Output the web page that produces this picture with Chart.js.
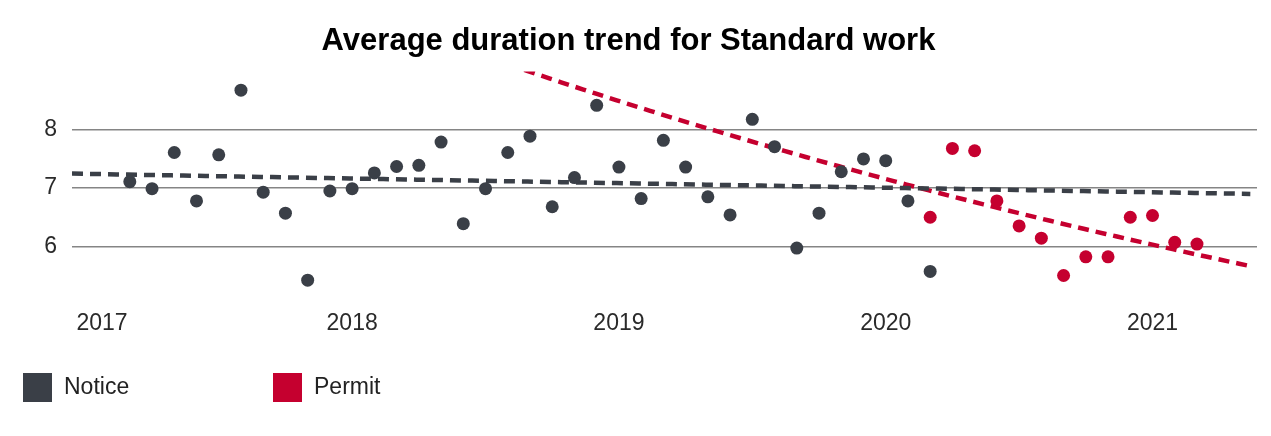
<!DOCTYPE html>
<html lang="en">
<head>
<meta charset="UTF-8">
<title>Average duration trend for Standard work</title>
<script src="https://cdn.jsdelivr.net/npm/chart.js"></script>
<style>
  html, body { margin: 0; padding: 0; background: #ffffff; }
  .chart-box { position: relative; width: 1271px; height: 436px; }
</style>
</head>
<body>
<div class="chart-box"><canvas id="trendChart"></canvas></div>
<script>
// x is counted in months since Jan 2017
const yearLabels = ['2017', '2018', '2019', '2020', '2021'];
const yearTickMonths = [0.75, 12, 24, 36, 48];
const yTicks = [6, 7, 8];

const noticeStart = '2017-03';
const noticeValues = [
  7.11, 6.99, 7.61, 6.78, 7.57, 8.68, 6.93, 6.57, 5.42, 6.95,
  6.99, 7.26, 7.37, 7.39, 7.79, 6.39, 6.99, 7.61, 7.89, 6.68,
  7.18, 8.42, 7.36, 6.82, 7.82, 7.36, 6.85, 6.54, 8.18, 7.71,
  5.97, 6.57, 7.28, 7.50, 7.47, 6.78, 5.57
];

const permitStart = '2020-03';
const permitValues = [
  6.50, 7.68, 7.64, 6.78, 6.35, 6.14, 5.50, 5.82, 5.82, 6.50,
  6.53, 6.07, 6.04
];

const noticeColor = '#3a3f47';
const permitColor = '#c5002f';
const fontFamily = '"Liberation Sans", Arial, sans-serif';
const xMin = -0.6, xMax = 52.7;

function monthIndex(ym) {
  const [y, m] = ym.split('-').map(Number);
  return (y - 2017) * 12 + (m - 1);
}

function toPoints(start, values) {
  const m0 = monthIndex(start);
  return values.map((v, i) => ({ x: m0 + i, y: v }));
}

// exponential trendline, least squares on ln(y)
function expTrend(points) {
  const n = points.length;
  const mx = points.reduce((s, p) => s + p.x, 0) / n;
  const my = points.reduce((s, p) => s + Math.log(p.y), 0) / n;
  let sxy = 0, sxx = 0;
  points.forEach(p => {
    sxy += (p.x - mx) * (Math.log(p.y) - my);
    sxx += (p.x - mx) * (p.x - mx);
  });
  const b = sxy / sxx;
  const a = my - b * mx;
  const line = [];
  for (let x = xMin; x <= xMax + 0.001; x += 0.5) {
    line.push({ x: x, y: Math.exp(a + b * x) });
  }
  return line;
}

const noticePoints = toPoints(noticeStart, noticeValues);
const permitPoints = toPoints(permitStart, permitValues);

const legendPlugin = {
  id: 'bottomLegend',
  afterDraw(chart) {
    const ctx = chart.ctx;
    const items = [
      { text: 'Notice', color: noticeColor },
      { text: 'Permit', color: permitColor }
    ];
    ctx.save();
    ctx.font = '23px ' + fontFamily;
    ctx.textBaseline = 'middle';
    items.forEach((it, i) => {
      const x = 23 + i * 250;
      ctx.fillStyle = it.color;
      ctx.fillRect(x, 373, 29, 29);
      ctx.fillStyle = '#222222';
      ctx.fillText(it.text, x + 41, 388);
    });
    ctx.restore();
  }
};

new Chart(document.getElementById('trendChart'), {
  type: 'scatter',
  data: {
    datasets: [
      {
        label: 'Notice',
        data: noticePoints,
        pointRadius: 6.5,
        pointHoverRadius: 6.5,
        pointBackgroundColor: noticeColor,
        pointBorderWidth: 0,
        order: 1
      },
      {
        label: 'Permit',
        data: permitPoints,
        pointRadius: 6.5,
        pointHoverRadius: 6.5,
        pointBackgroundColor: permitColor,
        pointBorderWidth: 0,
        order: 1
      },
      {
        label: 'Notice trend',
        data: expTrend(noticePoints),
        showLine: true,
        pointRadius: 0,
        borderColor: noticeColor,
        borderWidth: 4.5,
        borderDash: [11, 7],
        clip: 0,
        order: 2
      },
      {
        label: 'Permit trend',
        data: expTrend(permitPoints),
        showLine: true,
        pointRadius: 0,
        borderColor: permitColor,
        borderWidth: 4.5,
        borderDash: [11, 7],
        clip: 0,
        order: 2
      }
    ]
  },
  options: {
    responsive: true,
    maintainAspectRatio: false,
    animation: false,
    layout: { padding: { left: 0, right: 14, top: 0, bottom: 93 } },
    plugins: {
      legend: { display: false },
      tooltip: { enabled: false },
      title: {
        display: true,
        text: 'Average duration trend for Standard work',
        color: '#000000',
        font: { family: fontFamily, size: 31, weight: 'bold' },
        padding: { top: 23, bottom: 11.3 }
      }
    },
    scales: {
      x: {
        type: 'linear',
        min: xMin,
        max: xMax,
        grid: { display: false, drawTicks: false },
        border: { display: false },
        afterBuildTicks: s => { s.ticks = yearTickMonths.map(v => ({ value: v })); },
        afterFit: s => { s.height = 50; },
        ticks: {
          autoSkip: false,
          maxRotation: 0,
          padding: 17,
          color: '#2a2a2a',
          font: { family: fontFamily, size: 23 },
          callback: v => yearLabels[yearTickMonths.indexOf(v)]
        }
      },
      y: {
        min: 5.2,
        max: 9,
        grid: { color: '#858585', lineWidth: 1.5, drawTicks: false },
        border: { display: false },
        afterBuildTicks: s => { s.ticks = yTicks.map(v => ({ value: v })); },
        afterFit: s => { s.width = 72; },
        ticks: {
          padding: 15,
          color: '#2a2a2a',
          font: { family: fontFamily, size: 23 }
        }
      }
    }
  },
  plugins: [legendPlugin]
});
</script>
</body>
</html>
